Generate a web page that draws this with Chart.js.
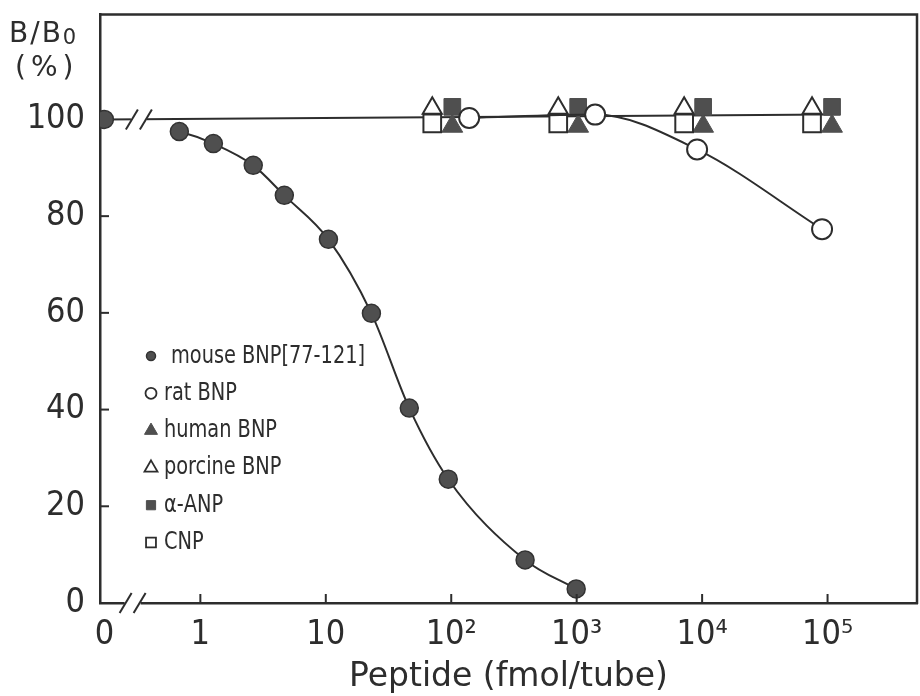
<!DOCTYPE html>
<html><head><meta charset="utf-8">
<script src="https://cdn.jsdelivr.net/npm/chart.js@4/dist/chart.umd.min.js"></script>
<style>html,body{margin:0;padding:0;background:#fff;overflow:hidden;}#wrap{width:920px;height:696px;overflow:hidden;}canvas{display:block;}</style>
</head><body><div id="wrap"><canvas id="c" width="920" height="696" style="width:920px;height:696px"></canvas></div>
<script>
// ---- data (doses in fmol/tube, 0 = zero-dose point; values B/B0 %) ----
const mouseDose   = [0, 0.68, 1.27, 2.64, 4.67, 10.5, 23.1, 46.3, 94.7, 388, 991];
const mouseBB0    = [100, 97.5, 95.0, 90.5, 84.3, 75.2, 59.9, 40.3, 25.6, 8.9, 2.9];
const ratDose     = [139, 1403, 9120, 90400];
const ratBB0      = [100.3, 101.0, 93.8, 77.3];
const humanDose   = [102, 1028, 10190, 108600];
const humanBB0    = [98.6, 98.6, 98.6, 98.6];
const porcineDose = [70.6, 713, 7190, 75200];
const porcineBB0  = [102.3, 102.3, 102.3, 102.3];
const anpDose     = [102, 1028, 10190, 108600];
const anpBB0      = [102.6, 102.6, 102.6, 102.6];
const cnpDose     = [70.6, 713, 7190, 75200];
const cnpBB0      = [99.2, 99.2, 99.2, 99.2];
const plateauDose = [0, 108600];
const plateauBB0  = [100, 101];
const legendLabels = ['mouse BNP[77-121]', 'rat BNP', 'human BNP', 'porcine BNP', '\u03b1-ANP', 'CNP'];
const xTickDose   = [0, 1, 10, 100, 1000, 10000, 100000];
const xTickLabels = ['0', '1', '10', '10\u00b2', '10\u00b3', '10\u2074', '10\u2075'];
const yTickValues = [0, 20, 40, 60, 80, 100];

// ---- layout / style ----
const ZERO_POS = -0.765;     // axis position used for dose 0
const TOP_BREAK = -0.49;
const AXIS_BREAK = -0.54;
const RIGHT_PAD = 3;
const ink = '#2d2d2d';
const gray = '#4f4f4f';
const narrow = "'DejaVu Sans Condensed', 'Liberation Sans Narrow', 'Liberation Sans', sans-serif";
const wide = "'DejaVu Sans', 'Liberation Sans', sans-serif";
const toX = d => d === 0 ? ZERO_POS : Math.log10(d);
const pts = (dose, val) => dose.map((d, i) => ({x: toX(d), y: val[i]}));
const noPad = s => { s.paddingTop = 0; s.paddingBottom = 0; s.paddingLeft = 0; s.paddingRight = 0; };

const datasets = [
  {label: legendLabels[0], data: pts(mouseDose, mouseBB0), showLine: true, cubicInterpolationMode: 'monotone',
   borderColor: ink, borderWidth: 2, pointStyle: 'circle', pointRadius: 9, pointBackgroundColor: gray,
   pointBorderColor: '#333', pointBorderWidth: 1.5, legendRadius: 4.5, order: 1,
   segment: {borderColor: c => c.p0DataIndex === 0 ? 'rgba(0,0,0,0)' : undefined}},
  {label: legendLabels[1], data: pts(ratDose, ratBB0), showLine: true, cubicInterpolationMode: 'monotone',
   borderColor: ink, borderWidth: 2, pointStyle: 'circle', pointRadius: 10, pointBackgroundColor: '#fff',
   pointBorderColor: ink, pointBorderWidth: 2, legendRadius: 5.5, order: 2},
  {label: legendLabels[2], data: pts(humanDose, humanBB0), showLine: false, pointStyle: 'triangle', pointRadius: 12,
   pointBackgroundColor: gray, pointBorderColor: gray, pointBorderWidth: 1, legendRadius: 7.5, order: 5},
  {label: legendLabels[3], data: pts(porcineDose, porcineBB0), showLine: false, pointStyle: 'triangle', pointRadius: 11,
   pointBackgroundColor: '#fff', pointBorderColor: ink, pointBorderWidth: 2, legendRadius: 7.5, order: 3},
  {label: legendLabels[4], data: pts(anpDose, anpBB0), showLine: false, pointStyle: 'rect', pointRadius: 11.8,
   pointBackgroundColor: gray, pointBorderColor: gray, pointBorderWidth: 1, legendRadius: 6.5, order: 4},
  {label: legendLabels[5], data: pts(cnpDose, cnpBB0), showLine: false, pointStyle: 'rect', pointRadius: 12.5,
   pointBackgroundColor: '#fff', pointBorderColor: ink, pointBorderWidth: 2, legendRadius: 7, order: 3},
  {label: 'plateau', data: pts(plateauDose, plateauBB0), showLine: true, borderColor: ink, borderWidth: 2,
   pointRadius: 0, order: 10}
];

// keep the plot frame flush with the right edge of the figure
const fitRight = {
  id: 'fitRight',
  afterLayout(chart) {
    const target = chart.width - RIGHT_PAD;
    const a = chart.chartArea;
    if (a.right !== target) {
      a.right = target; a.width = a.right - a.left;
      const x = chart.scales.x;
      x.right = target; x.width = target - x.left;
      x.configure();
    }
  }
};

const decor = {
  id: 'decor',
  afterDatasetsDraw(chart) {
    const {ctx, chartArea: a, scales: {x, y}} = chart;
    ctx.save();
    ctx.strokeStyle = ink;
    ctx.lineWidth = 2.5;
    ctx.beginPath();
    ctx.moveTo(a.left - 1, a.top); ctx.lineTo(a.right, a.top); ctx.lineTo(a.right, a.bottom + 1);
    ctx.stroke();
    ctx.lineWidth = 2;
    xTickDose.forEach(d => {
      if (d === 0) return;
      const px = x.getPixelForValue(toX(d));
      ctx.beginPath(); ctx.moveTo(px, a.bottom); ctx.lineTo(px, a.bottom - 9); ctx.stroke();
    });
    yTickValues.forEach(v => {
      if (v === 0 || v === 100) return;
      const py = y.getPixelForValue(v);
      ctx.beginPath(); ctx.moveTo(a.left, py); ctx.lineTo(a.left + 9, py); ctx.stroke();
    });
    const brk = (cx, cy) => {
      ctx.fillStyle = '#fff';
      ctx.fillRect(cx - 8, cy - 4, 16, 8);
      ctx.lineWidth = 2;
      [-7, 7].forEach(dx => {
        ctx.beginPath(); ctx.moveTo(cx + dx - 6, cy + 10); ctx.lineTo(cx + dx + 6, cy - 10); ctx.stroke();
      });
    };
    brk(x.getPixelForValue(TOP_BREAK), y.getPixelForValue(100));
    brk(x.getPixelForValue(AXIS_BREAK), a.bottom);

    // y title
    ctx.fillStyle = ink;
    ctx.textBaseline = 'alphabetic';
    ctx.textAlign = 'left';
    ctx.font = "28px " + wide;
    ctx.letterSpacing = '2px';
    ctx.fillText('B/B', 9, 42);
    const w = ctx.measureText('B/B').width;
    ctx.font = "21px " + wide;
    ctx.letterSpacing = '0px';
    ctx.fillText('0', 9 + w, 44);
    ctx.font = "28px " + wide;
    ctx.letterSpacing = '5px';
    ctx.fillText('(%)', 15, 76);
    ctx.letterSpacing = '0px';

    // legend
    ctx.font = "25px " + narrow;
    ctx.textBaseline = 'middle';
    for (let i = 0; i < legendLabels.length; i++) {
      const ds = chart.data.datasets[i];
      const cy = 356 + i * 37.3;
      ctx.fillStyle = ds.pointBackgroundColor;
      ctx.strokeStyle = ds.pointBorderColor;
      ctx.lineWidth = Math.min(ds.pointBorderWidth, 1.8);
      Chart.helpers.drawPoint(ctx, {pointStyle: ds.pointStyle, rotation: 0, radius: ds.legendRadius,
        borderWidth: ds.pointBorderWidth}, 151, cy);
      ctx.fillStyle = ink;
      const tx = i === 0 ? 171 : 164;
      ctx.save();
      ctx.translate(tx, cy);
      ctx.scale(0.86, 1);
      ctx.fillText(legendLabels[i], 0, 0);
      ctx.restore();
    }
    ctx.restore();
  }
};

new Chart(document.getElementById('c'), {
  type: 'scatter',
  data: {datasets},
  options: {
    responsive: false, devicePixelRatio: 1, animation: false,
    layout: {padding: {top: 14, right: RIGHT_PAD, left: 0, bottom: 0}},
    plugins: {legend: {display: false}, tooltip: {enabled: false}},
    scales: {
      x: {type: 'linear', min: -0.8, max: 5.713,
        afterBuildTicks: s => { s.ticks = xTickDose.map(d => ({value: toX(d)})); },
        afterFit: s => { s.height = 93; noPad(s); },
        ticks: {callback: (v, i) => xTickLabels[i], font: {family: narrow, size: 34, lineHeight: 1},
          color: ink, padding: 15, maxRotation: 0, autoSkip: false},
        grid: {display: false, drawTicks: false},
        border: {display: true, color: ink, width: 2.5},
        title: {display: true, text: 'Peptide (fmol/tube)', color: ink,
          font: {family: wide, size: 33, lineHeight: 1}, padding: {top: 0, bottom: 2}}
      },
      y: {type: 'linear', min: 0, max: 121.7,
        afterBuildTicks: s => { s.ticks = yTickValues.map(v => ({value: v})); },
        afterFit: s => { s.width = 100; noPad(s); },
        ticks: {font: {family: narrow, size: 34, lineHeight: 1}, color: ink, padding: 15},
        grid: {display: false, drawTicks: false},
        border: {display: true, color: ink, width: 2.5}
      }
    }
  },
  plugins: [fitRight, decor]
});
</script></body></html>
